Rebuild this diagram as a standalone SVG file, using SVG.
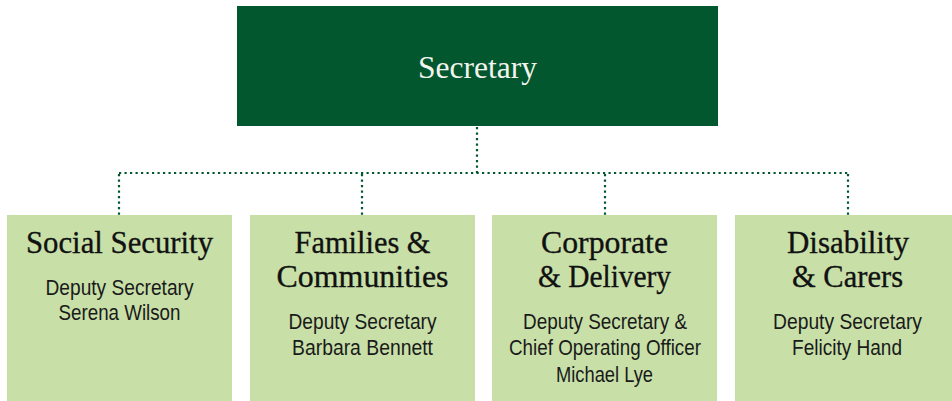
<svg xmlns="http://www.w3.org/2000/svg" width="952" height="401" viewBox="0 0 952 401">
<style>
.top{fill:#02572f}
.box{fill:#c8e0a8}
.conn{stroke:#02572f;stroke-width:2.2;stroke-dasharray:2.2 3.3;fill:none}
.h{font-family:"Liberation Serif","DejaVu Serif",serif;font-size:32px;fill:#111;stroke:#111;stroke-width:0.35;text-anchor:middle}
.s{font-family:"Liberation Sans","Noto Sans",sans-serif;font-size:22.5px;fill:#1a1a1a;text-anchor:middle}
.w{font-family:"Liberation Serif","DejaVu Serif",serif;font-size:32px;fill:#f4f4ee;text-anchor:middle}
</style>
<rect width="952" height="401" fill="#ffffff"/>
<g id="connectors">
<path class="conn" d="M477 127 V173"/>
<path class="conn" d="M119 173 H849"/>
<path class="conn" d="M119 174 V215 M362 174 V215 M605 174 V215 M848 174 V215"/>
</g>
<g id="secretary">
<rect class="top" x="237" y="6" width="481" height="120"/>
<text class="w" x="477.5" y="77.5" textLength="119" lengthAdjust="spacingAndGlyphs">Secretary</text>
</g>
<g id="social-security">
<rect class="box" x="7" y="215" width="225" height="186"/>
<text class="h" x="119.5" y="253" textLength="187" lengthAdjust="spacingAndGlyphs">Social Security</text>
<text class="s" x="119.5" y="295" textLength="148" lengthAdjust="spacingAndGlyphs">Deputy Secretary</text>
<text class="s" x="119.5" y="320" textLength="122" lengthAdjust="spacingAndGlyphs">Serena Wilson</text>
</g>
<g id="families-communities">
<rect class="box" x="250" y="215" width="225" height="186"/>
<text class="h" x="362.5" y="253" textLength="136" lengthAdjust="spacingAndGlyphs">Families &amp;</text>
<text class="h" x="362.5" y="287" textLength="172" lengthAdjust="spacingAndGlyphs">Communities</text>
<text class="s" x="362.5" y="329" textLength="148" lengthAdjust="spacingAndGlyphs">Deputy Secretary</text>
<text class="s" x="362.5" y="355" textLength="141" lengthAdjust="spacingAndGlyphs">Barbara Bennett</text>
</g>
<g id="corporate-delivery">
<rect class="box" x="492" y="215" width="225" height="186"/>
<text class="h" x="604.5" y="253" textLength="127" lengthAdjust="spacingAndGlyphs">Corporate</text>
<text class="h" x="604.5" y="287" textLength="133" lengthAdjust="spacingAndGlyphs">&amp; Delivery</text>
<text class="s" x="605" y="329" textLength="164" lengthAdjust="spacingAndGlyphs">Deputy Secretary &amp;</text>
<text class="s" x="605" y="355" textLength="192" lengthAdjust="spacingAndGlyphs">Chief Operating Officer</text>
<text class="s" x="604.5" y="382" textLength="97" lengthAdjust="spacingAndGlyphs">Michael Lye</text>
</g>
<g id="disability-carers">
<rect class="box" x="735" y="215" width="225" height="186"/>
<text class="h" x="848" y="253" textLength="122" lengthAdjust="spacingAndGlyphs">Disability</text>
<text class="h" x="847.5" y="287" textLength="111" lengthAdjust="spacingAndGlyphs">&amp; Carers</text>
<text class="s" x="847.5" y="329" textLength="149" lengthAdjust="spacingAndGlyphs">Deputy Secretary</text>
<text class="s" x="847" y="355" textLength="110" lengthAdjust="spacingAndGlyphs">Felicity Hand</text>
</g>
</svg>
